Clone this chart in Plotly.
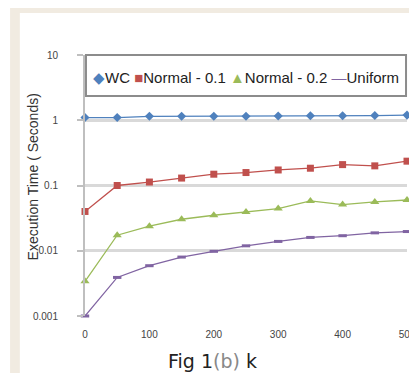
import plotly.graph_objects as go

k = [0, 50, 100, 150, 200, 250, 300, 350, 400, 450, 500]
wc = [1.1, 1.1, 1.15, 1.15, 1.15, 1.15, 1.16, 1.17, 1.17, 1.18, 1.2]
normal_01 = [0.040, 0.100, 0.113, 0.130, 0.149, 0.158, 0.173, 0.184, 0.209, 0.200, 0.236]
normal_02 = [0.0034, 0.0173, 0.0238, 0.0304, 0.035, 0.0394, 0.0443, 0.058, 0.051, 0.056, 0.060]
uniform = [0.0010, 0.0039, 0.0059, 0.0080, 0.0098, 0.0119, 0.0139, 0.0160, 0.0170, 0.0188, 0.0197]

series_names = ["WC", "Normal - 0.1", "Normal - 0.2", "Uniform"]
colors = ["#4f81bd", "#c0504d", "#9bbb59", "#8064a2"]
symbols = ["diamond", "square", "triangle-up", "line-ew"]
sizes = [7, 7, 8, 6]
legend_glyphs = ["\u25c6", "\u25a0", "\u25b2", "\u2014"]

y_tickvals = [0.001, 0.01, 0.1, 1, 10]
y_ticktext = ["0.001", "0.01", "0.1", "1", "10"]
x_tickvals = [0, 100, 200, 300, 400, 500]

W, H = 417, 373
ML, MR, MT, MB = 77, 9, 47, 65
PW, PH = W - ML - MR, H - MT - MB


def px(x):
    return (x - ML) / PW


def py(y):
    return (H - MB - y) / PH


fig = go.Figure()
for name, vals, c, s, sz in zip(series_names, [wc, normal_01, normal_02, uniform], colors, symbols, sizes):
    marker = dict(symbol=s, size=sz, color=c)
    if s == "line-ew":
        marker["line"] = dict(color=c, width=3)
    fig.add_trace(go.Scatter(
        x=k, y=vals, mode="lines+markers", name=name,
        line=dict(color=c, width=1.3), marker=marker,
        cliponaxis=False, showlegend=False,
    ))

# background: beige photo edges with white chart page
shapes = [
    dict(type="rect", xref="paper", yref="paper", x0=px(0), x1=px(W), y0=py(H), y1=py(0),
         fillcolor="#f1ebe1", line=dict(width=0), layer="below"),
    dict(type="rect", xref="paper", yref="paper", x0=px(10), x1=px(W), y0=py(H), y1=py(5),
         fillcolor="#ffffff", line=dict(width=0), layer="below"),
    # legend box
    dict(type="rect", xref="paper", yref="paper", x0=px(78), x1=px(407), y0=py(88), y1=py(47),
         fillcolor="#ffffff", line=dict(color="#8c8c8c", width=2), layer="above"),
]

legend_text = " ".join(
    f"<span style='color:{c}'>{g}</span>{n}" for g, c, n in zip(legend_glyphs, colors, series_names)
)

annotations = [
    dict(text=legend_text, xref="paper", yref="paper", x=px(243), y=py(69),
         showarrow=False, font=dict(family="Liberation Sans, Arial", size=15, color="#222222"),
         xanchor="center", yanchor="middle"),
    dict(text="Execution Time ( Seconds)", xref="paper", yref="paper", x=px(24), y=py(169),
         textangle=-90, showarrow=False,
         font=dict(family="Liberation Sans, Arial", size=14, color="#333333"),
         xanchor="center", yanchor="middle"),
    dict(text="Fig 1<span style='color:#888888'>(b)</span> k", xref="paper", yref="paper",
         x=px(208), y=py(353), showarrow=False,
         font=dict(family="DejaVu Sans, Arial", size=19, color="#222222"),
         xanchor="center", yanchor="middle"),
]

fig.update_layout(
    width=W, height=H,
    margin=dict(l=ML, r=MR, t=MT, b=MB, pad=0),
    paper_bgcolor="#ffffff", plot_bgcolor="#ffffff",
    shapes=shapes, annotations=annotations,
    showlegend=False,
    xaxis=dict(range=[0, 500], tickvals=x_tickvals, showgrid=False, zeroline=False,
               showline=False, ticks="outside", ticklen=9, tickcolor="rgba(0,0,0,0)",
               tickfont=dict(family="Liberation Sans, Arial", size=10, color="#444444")),
    yaxis=dict(type="log", range=[-3, 1], tickvals=y_tickvals, ticktext=y_ticktext,
               showgrid=True, gridcolor="#d9d9d9", gridwidth=3,
               showline=True, linecolor="#bfbfbf", linewidth=2,
               ticks="outside", ticklen=6, tickwidth=2, tickcolor="#bfbfbf",
               ticklabelstandoff=17,
               tickfont=dict(family="Liberation Sans, Arial", size=10, color="#444444"),
               zeroline=False),
)

fig.write_html("out.html")
